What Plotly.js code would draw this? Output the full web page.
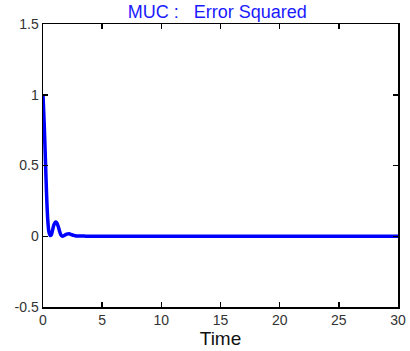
<!DOCTYPE html>
<html><head><meta charset="utf-8">
<script src="https://cdn.plot.ly/plotly-3.0.1.min.js"></script>
<style>html,body{margin:0;padding:0;background:#fff;}#c{width:410px;height:351px;}</style>
</head><body><div id="c"></div>
<script>
var timeVals = [0, 0.1, 0.2, 0.3, 0.4, 0.5, 0.6, 0.7, 0.8, 0.9, 1.0, 1.1, 1.2, 1.3, 1.4, 1.5, 1.6, 1.7, 1.8, 2.0, 2.2, 2.4, 2.6, 2.8, 3.0, 3.5, 4, 30];
var errSq = [1.0, 0.8, 0.55, 0.3, 0.12, 0.03, 0.005, 0.01, 0.04, 0.075, 0.095, 0.1, 0.09, 0.065, 0.035, 0.012, 0.002, 0.001, 0.005, 0.015, 0.018, 0.012, 0.006, 0.002, 0.002, 0.001, 0, 0];
var xTicks = [0, 5, 10, 15, 20, 25, 30];
var yTicks = [-0.5, 0, 0.5, 1, 1.5];
var yTickText = ['-0.5', '0', '0.5', '1', '1.5'];

var axisCommon = {
  showline: true, linecolor: '#000', linewidth: 1.5, mirror: 'ticks',
  ticks: 'inside', ticklen: 5, tickwidth: 1.5, tickcolor: '#000',
  showgrid: false, zeroline: false,
  tickfont: {family: 'Liberation Sans, Arial, sans-serif', size: 14, color: '#333'}
};
var layout = {
  width: 410, height: 351,
  margin: {l: 43, r: 12, t: 24, b: 44},
  paper_bgcolor: '#fff', plot_bgcolor: '#fff',
  showlegend: false,
  title: {text: 'MUC :   Error Squared', x: 0.53, xanchor: 'center', y: 0.966, yanchor: 'middle',
          font: {family: 'Liberation Sans, Arial, sans-serif', size: 18, color: '#1a1aff'}},
  xaxis: Object.assign({}, axisCommon, {range: [0, 30], tickvals: xTicks, ticktext: xTicks.map(String),
          title: {text: 'Time', standoff: 0, font: {family: 'Liberation Sans, Arial, sans-serif', size: 19, color: '#111'}}}),
  yaxis: Object.assign({}, axisCommon, {range: [-0.5, 1.5], tickvals: yTicks, ticktext: yTickText})
};
Plotly.newPlot('c', [{x: timeVals, y: errSq, type: 'scatter', mode: 'lines',
  line: {color: '#0000ff', width: 3.5, shape: 'spline', smoothing: 0.6}}], layout, {staticPlot: true});
</script></body></html>
